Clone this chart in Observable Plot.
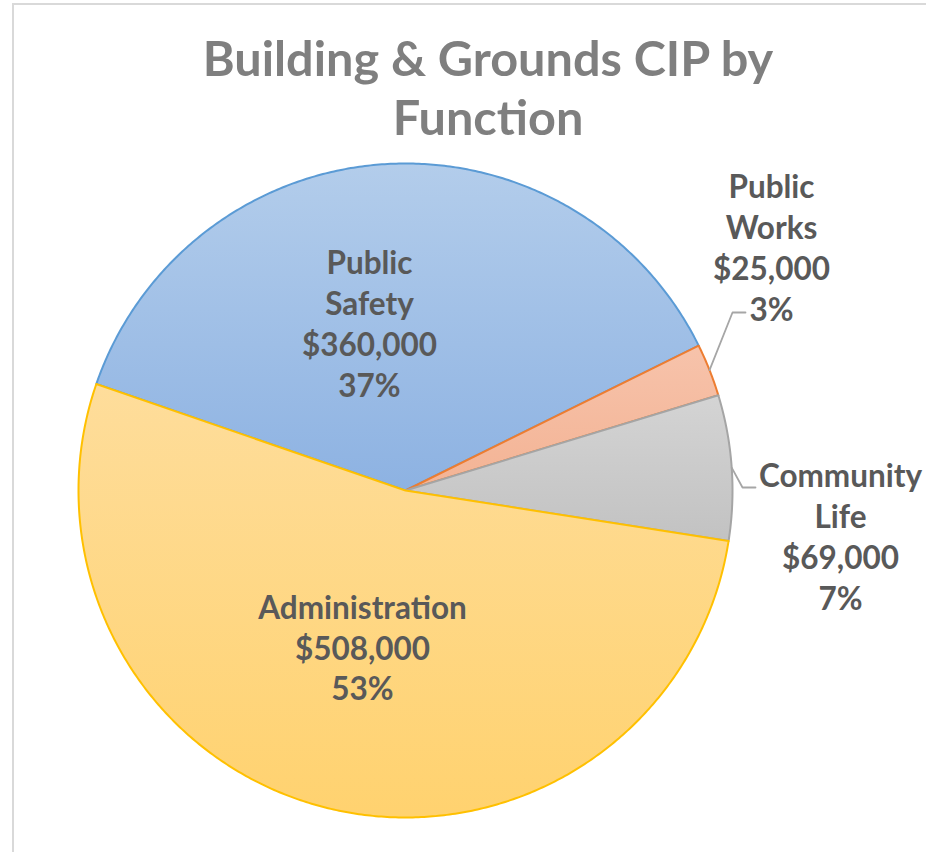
<!DOCTYPE html>
<html><head><meta charset="utf-8">
<script src="https://cdn.jsdelivr.net/npm/d3@7"></script>
<script src="https://cdn.jsdelivr.net/npm/@observablehq/plot@0.6"></script>
<style>
body{margin:0;background:#fff;font-family:Lato,sans-serif;}
#wrap{position:relative;width:926px;height:852px;overflow:hidden;background:#fff;}
#frame{position:absolute;left:12px;top:3px;width:1000px;height:1000px;border-left:2px solid #d9d9d9;border-top:2px solid #d9d9d9;}
#title{position:absolute;left:50px;width:876px;top:28px;text-align:center;font-family:Lato,sans-serif;font-weight:700;font-size:48.6px;line-height:59px;color:#7f7f7f;white-space:nowrap;}
#chart{position:absolute;left:0;top:150px;}
</style>
</head><body>
<div id="wrap">
  <div id="frame"></div>
  <div id="title">Building &amp; Grounds CIP by<br>Function</div>
  <div id="chart"></div>
</div>
<script>
// ---- data ----
const categories = ["Public Safety", "Public Works", "Community Life", "Administration"];
const labelLines = [["Public", "Safety"], ["Public", "Works"], ["Community", "Life"], ["Administration"]];
const values = [360000, 25000, 69000, 508000];

// ---- style / layout ----
const strokeColors = ["#5b9bd5", "#ed7d31", "#a5a5a5", "#ffc000"];
const gradTop = ["#b3cdeb", "#f7c3ab", "#d4d4d4", "#fedd9b"];
const gradBottom = ["#8db2e2", "#f3b394", "#c2c2c2", "#ffd26f"];
const R = 327;
const startAngle = -71;
const labelOffset = [[-36, -168], [366, -244], [435, 45], [-43, 156]]; // px from pie centre (down positive)
const leaderElbow = {1: [[-39, 66], [-26, 66]], 2: [[-98, -48], [-85, -48]]};

const total = d3.sum(values);
let acc = startAngle;
const slices = categories.map((c, i) => {
  const a0 = acc, a1 = acc + values[i] / total * 360;
  acc = a1;
  return {c, i, a0, a1, mid: (a0 + a1) / 2};
});
const rad = a => a * Math.PI / 180;
function polygon(s) {
  const pts = [[0, 0]];
  const n = Math.max(2, Math.ceil((s.a1 - s.a0) * 2));
  for (let k = 0; k <= n; k++) {
    const a = rad(s.a0 + (s.a1 - s.a0) * k / n);
    pts.push([R * Math.sin(a), R * Math.cos(a)]);
  }
  return pts;
}
const fmt = d3.format("$,");
const labels = slices.map(s => ({
  x: labelOffset[s.i][0],
  y: -labelOffset[s.i][1],
  text: [...labelLines[s.i], fmt(values[s.i]), Math.round(values[s.i] / total * 100) + "%"].join("\n")
}));
const leaders = [];
for (const k of Object.keys(leaderElbow)) {
  const s = slices[+k];
  const a = rad(s.mid);
  const lx = labelOffset[k][0], ly = labelOffset[k][1];
  leaders.push([
    {k, x: R * Math.sin(a), y: R * Math.cos(a)},
    ...leaderElbow[k].map(p => ({k, x: lx + p[0], y: -(ly + p[1])}))
  ]);
}

const plot = Plot.plot({
  width: 926, height: 702,
  margin: 0,
  x: {domain: [-405, 521], axis: null},
  y: {domain: [-362, 340], axis: null},
  style: {background: "transparent", overflow: "visible"},
  marks: [
    ...slices.map(s => Plot.line(polygon(s), {
      x: d => d[0], y: d => d[1], curve: "linear-closed",
      fill: `url(#grad${s.i})`, stroke: strokeColors[s.i], strokeWidth: 2, strokeLinejoin: "round"
    })),
    ...leaders.map(L => Plot.line(L, {x: "x", y: "y", stroke: "#a6a6a6", strokeWidth: 1.8})),
    Plot.text(labels, {
      x: "x", y: "y", text: "text", fontSize: 31.5, fontWeight: "bold",
      fontFamily: "Lato, sans-serif", fill: "#595959", lineHeight: 1.292
    })
  ]
});
const svg = d3.select(plot);
const defs = svg.insert("defs", ":first-child");
slices.forEach(s => {
  const g = defs.append("linearGradient").attr("id", "grad" + s.i)
    .attr("x1", 0).attr("y1", 0).attr("x2", 0).attr("y2", 1);
  g.append("stop").attr("offset", "0%").attr("stop-color", gradTop[s.i]);
  g.append("stop").attr("offset", "100%").attr("stop-color", gradBottom[s.i]);
});
document.getElementById("chart").appendChild(plot);
</script>
</body></html>
